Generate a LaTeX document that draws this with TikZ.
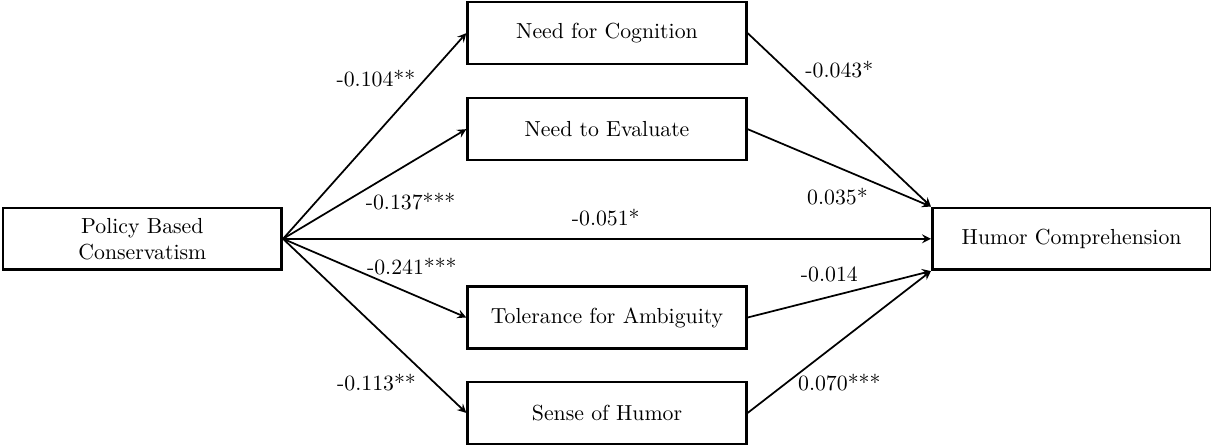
\documentclass[tikz,border=0pt]{standalone}
\usepackage{tikz}

\begin{document}
\begin{tikzpicture}[
    box/.style={rectangle, draw, very thick, fill=white, minimum width=4.5cm, minimum height=1.0cm, align=center},
    arrow/.style={->, >=stealth, thick}
]
    \useasboundingbox (-2.298, 3.855) rectangle (17.25, -3.355);

    % Predictor
    \node[box] (pbc) at (0, 0) {Policy Based\\Conservatism};

    % Mediators
    \node[box] (nfc) at (7.5, 3.32) {Need for Cognition};
    \node[box] (nte) at (7.5, 1.77) {Need to Evaluate};
    \node[box] (tfa) at (7.5, -1.27) {Tolerance for Ambiguity};
    \node[box] (soh) at (7.5, -2.81) {Sense of Humor};

    % Outcome
    \node[box] (hc) at (15, 0) {Humor Comprehension};

    % a paths
    \draw[arrow] (pbc.east) -- (nfc.west);
    \draw[arrow] (pbc.east) -- (nte.west);
    \draw[arrow] (pbc.east) -- (tfa.west);
    \draw[arrow] (pbc.east) -- (soh.west);
    \node (a1) at (3.77, 2.58) {-0.104**};
    \node (a2) at (4.33, 0.60) {-0.137***};
    \node (a3) at (4.35, -0.44) {-0.241***};
    \node (a4) at (3.78, -2.32) {-0.113**};

    % Direct path
    \draw[arrow] (pbc.east) -- (hc.west);
    \node (c) at (7.48, 0.34) {-0.051*};

    % b paths
    \draw[arrow] (nfc.east) -- (hc.north west);
    \draw[arrow] (nte.east) -- (hc.north west);
    \draw[arrow] (tfa.east) -- (hc.south west);
    \draw[arrow] (soh.east) -- (hc.south west);
    \node (b1) at (11.25, 2.73) {-0.043*};
    \node (b2) at (11.22, 0.68) {0.035*};
    \node (b3) at (11.09, -0.58) {-0.014};
    \node (b4) at (11.25, -2.32) {0.070***};
\end{tikzpicture}
\end{document}
